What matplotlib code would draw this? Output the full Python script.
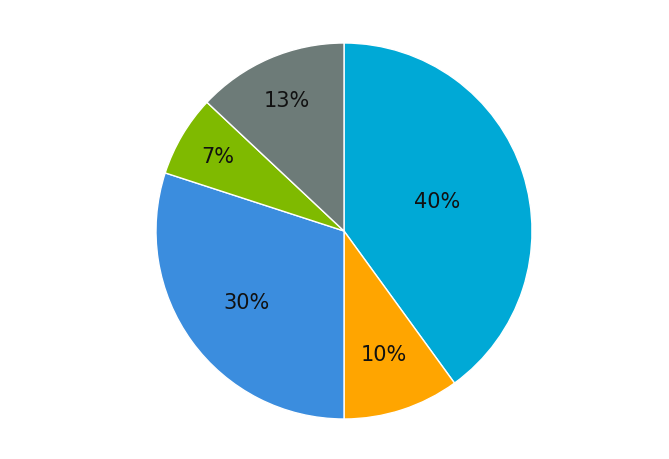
import matplotlib
matplotlib.use("Agg")
import matplotlib.pyplot as plt
import numpy as np

labels = ["A", "B", "C", "D", "E"]
values = [40, 10, 30, 7, 13]
colors = ["#00A9D6", "#FFA500", "#3B8DDE", "#7FBA00", "#6D7B78"]
label_dist = [0.52, 0.69, 0.64, 0.78, 0.76]

fig = plt.figure(figsize=(6.69, 4.60), dpi=100)
W, H = 669, 460
cx, cy, r = 344, 232, 188
ax = fig.add_axes([(cx - r) / W, (H - cy - r) / H, 2 * r / W, 2 * r / H])
wedges, _ = ax.pie(values, colors=colors, startangle=90, counterclock=False,
                   radius=1, wedgeprops=dict(edgecolor="white", linewidth=1))
total = sum(values)
cum = 0
for v, d in zip(values, label_dist):
    mid = 90 - (cum + v / 2) / total * 360
    cum += v
    x = d * np.cos(np.radians(mid))
    y = d * np.sin(np.radians(mid))
    ax.text(x, y, f"{v}%", ha="center", va="center", fontsize=15,
            color="#111111", family="DejaVu Sans")
ax.set_xlim(-1, 1)
ax.set_ylim(-1, 1)
ax.set_aspect("equal")
ax.axis("off")
fig.savefig("out.png", dpi=100)
